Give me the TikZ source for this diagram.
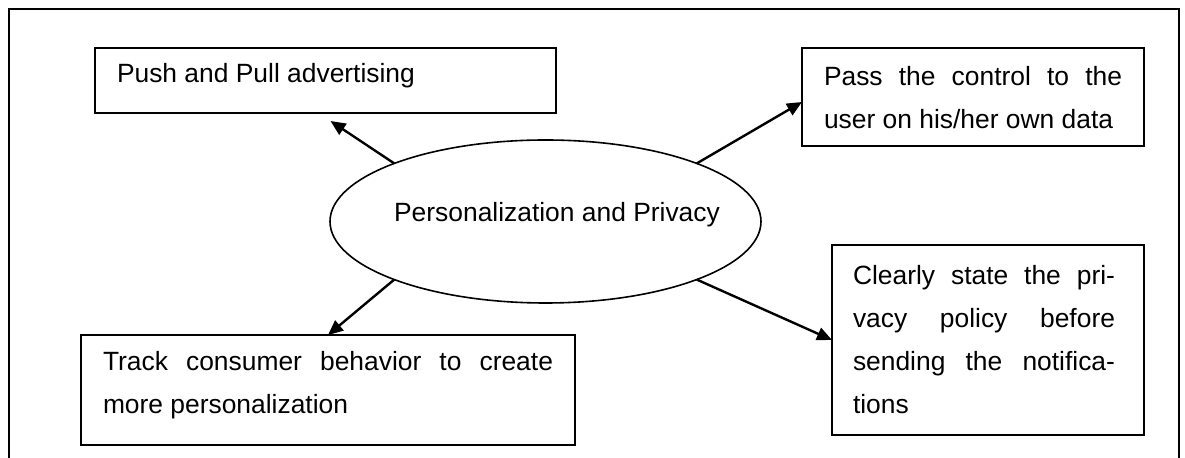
\documentclass[tikz,border=0pt]{standalone}
\usepackage{fontspec}
\setmainfont{Liberation Sans}
\usetikzlibrary{shapes.geometric,arrows.meta}
\newcommand{\jl}[2]{\makebox[#1][s]{\spaceskip=0pt\xspaceskip=0pt #2}}
\begin{document}
\begin{tikzpicture}[x=0.5pt,y=-0.5pt,
  box/.style={draw, line width=1pt, rectangle, inner sep=0pt, outer sep=0pt, anchor=north west},
  ell/.style={draw, line width=0.8pt, ellipse, inner sep=0pt, outer sep=0pt, minimum width=215.5pt, minimum height=81.5pt},
  txt/.style={inner sep=0pt, outer sep=0pt, anchor=base west, align=flush left, font=\fontsize{13.2pt}{21.5pt}\selectfont},
  arr/.style={line width=1.2pt, -{Triangle[length=7.5pt,width=6.5pt]}},
  frame/.style={line width=1pt}]
\useasboundingbox (0,0) rectangle (1185,458);
\draw[frame] (9,458) -- (9,9) -- (1179,9) -- (1179,458);
% boxes
\node[box, minimum width=230.5pt, minimum height=32.5pt] (push) at (95,48) {};
\node[box, minimum width=171pt, minimum height=49pt] (pass) at (802,48) {};
\node[box, minimum width=247pt, minimum height=55pt] (track) at (81,335) {};
\node[box, minimum width=156pt, minimum height=95pt] (clear) at (832,245) {};
\node[ell] (pp) at (545.5,221.5) {};
% texts
\node[txt] (pusht) at (117,83) {Push and Pull advertising};
\node[txt, text width=149pt] (passt) at (824,86) {\jl{149pt}{Pass the control to the}\\ user on his/her own data};
\node[txt, text width=225pt] (trackt) at (103,371) {\jl{225pt}{Track consumer behavior to create}\\ more personalization};
\node[txt, text width=131pt] (cleart) at (853,285) {\jl{131pt}{Clearly state the pri-}\\ \jl{131pt}{vacy policy before}\\ \jl{131pt}{sending the notifica-}\\ tions};
\node[txt, anchor=base] (ppt) at (557,222) {Personalization and Privacy};
% arrows
\draw[arr] (pp.159) -- ([xshift=2.5pt,yshift=-4pt]push.south);
\draw[arr] (pp.21) -- ([yshift=-2.5pt]pass.west);
\draw[arr] (pp.201) -- (track.north);
\draw[arr] (pp.339) -- (clear.west);
\end{tikzpicture}
\end{document}
